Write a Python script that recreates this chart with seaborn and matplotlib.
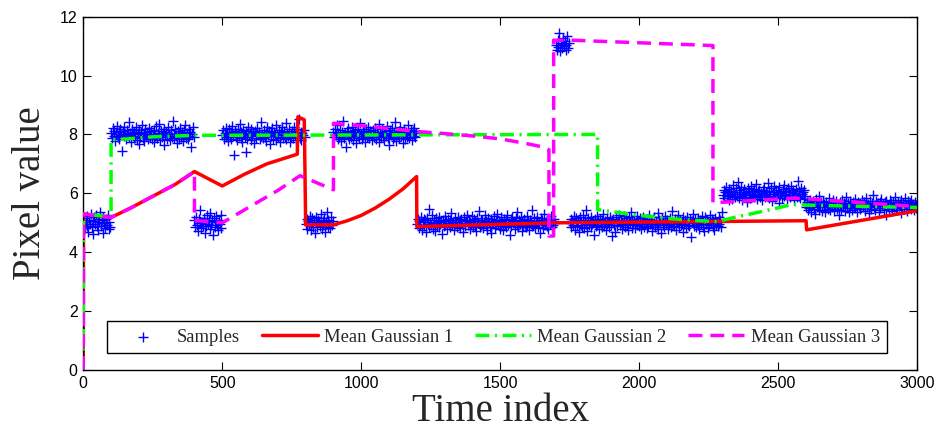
import numpy as np
import pandas as pd
import matplotlib
matplotlib.use('Agg')
import matplotlib.pyplot as plt
import seaborn as sns

# ==================== data ====================
# sample segments (time range and the pixel values read per segment)
seg_start = [0, 100, 400, 500, 800, 900, 1200, 1700, 1750, 2300, 2600]
seg_end = [100, 400, 500, 800, 900, 1200, 1700, 1750, 2300, 2600, 3000]

seg_a = [4.92, 5.15, 4.81, 5.03, 5.22, 4.88, 4.70, 5.10, 4.97, 5.31, 4.85, 5.06, 4.62, 5.18, 4.95, 5.27,
         4.89, 5.12, 4.76, 5.01, 5.36, 4.90, 5.08, 4.67, 5.20, 4.98, 4.83, 5.14, 4.93, 5.25, 4.79, 5.04,
         4.87]
seg_b = [8.05, 7.88, 8.21, 7.96, 8.12, 7.79, 8.03, 8.30, 7.92, 8.08,
         7.85, 8.17, 7.98, 7.45, 8.11, 7.94, 8.26, 8.02, 7.83, 8.14,
         7.97, 8.41, 7.90, 8.06, 7.76, 8.19, 8.00, 7.87, 8.09, 7.95,
         8.24, 7.81, 8.04, 7.68, 8.15, 7.93, 8.07, 8.33, 7.89, 8.01,
         7.78, 8.18, 7.96, 8.10, 7.84, 8.22, 7.99, 7.91, 8.13, 7.86,
         8.02, 7.73, 8.16, 7.94, 8.28, 7.88, 8.06, 7.97, 8.36, 7.82,
         8.11, 7.92, 8.04, 7.65, 8.20, 7.99, 8.09, 7.86, 8.25, 7.95,
         8.00, 7.80, 8.14, 7.90, 8.46, 8.03, 7.87, 8.18, 7.96, 7.71,
         8.12, 8.01, 7.84, 8.23, 7.93, 8.07, 7.77, 8.15, 7.98, 8.31,
         7.89, 8.05, 7.83, 8.19, 7.94, 8.10, 7.58, 8.02, 8.27, 7.91]
seg_c = [5.08, 4.86, 5.21, 4.94, 4.73, 5.12, 4.99, 5.45, 4.81, 5.04, 4.90, 5.17, 4.67, 5.02, 4.88, 5.25,
         4.96, 5.11, 4.78, 5.33, 4.92, 5.06, 4.60, 5.15, 4.85, 5.01, 5.22, 4.91, 4.75, 5.09, 4.97, 5.28,
         4.83]
seg_d = [7.97, 8.14, 7.86, 8.06, 8.23, 7.91, 8.02, 7.78, 8.17, 7.95,
         8.09, 7.84, 8.28, 7.99, 7.30, 8.12, 7.93, 8.04, 7.80, 8.20,
         7.96, 8.35, 7.88, 8.07, 7.74, 8.15, 8.01, 7.90, 7.40, 8.11,
         7.85, 8.25, 7.98, 8.05, 7.82, 8.18, 7.94, 8.08, 7.71, 8.13,
         8.00, 7.87, 8.22, 7.97, 8.10, 7.83, 8.43, 7.95, 8.03, 7.89,
         8.16, 7.92, 8.06, 7.79, 8.27, 7.99, 8.12, 7.66, 8.04, 7.94,
         8.21, 7.86, 8.09, 7.97, 8.33, 7.81, 8.02, 7.90, 8.15, 7.76,
         8.07, 7.98, 8.24, 7.88, 8.11, 7.93, 8.38, 7.84, 8.05, 7.96,
         8.18, 7.73, 8.01, 7.91, 8.13, 7.87, 8.26, 7.99, 8.08, 7.80,
         8.20, 7.95, 8.52, 7.89, 8.10, 7.82, 8.04, 7.97, 8.16, 7.92]
seg_e = [4.95, 5.13, 4.80, 5.06, 4.91, 5.24, 4.74, 5.01, 5.17, 4.87, 5.09, 4.66, 5.20, 4.98, 4.84, 5.11,
         5.03, 4.89, 5.29, 4.78, 5.07, 4.94, 5.15, 4.70, 5.02, 5.38, 4.86, 5.10, 4.97, 4.82, 5.19, 4.92,
         5.05]
seg_f = [8.08, 7.90, 8.19, 7.97, 8.31, 7.84, 8.04, 7.93, 8.16, 7.78,
         8.10, 7.99, 8.45, 7.88, 8.06, 7.57, 8.13, 7.95, 8.22, 7.86,
         8.02, 7.92, 8.27, 7.81, 8.09, 7.98, 8.15, 7.70, 8.05, 7.94,
         8.20, 7.87, 8.38, 8.00, 7.83, 8.12, 7.96, 8.07, 7.76, 8.17,
         7.91, 8.03, 8.25, 7.89, 8.11, 7.97, 7.80, 8.14, 8.01, 7.93,
         8.23, 7.85, 8.06, 7.99, 8.34, 7.74, 8.09, 7.90, 8.18, 7.96,
         8.02, 7.82, 8.12, 7.94, 8.29, 7.88, 8.05, 7.63, 8.15, 7.98,
         8.21, 7.86, 8.08, 7.92, 8.41, 7.79, 8.03, 7.97, 8.13, 7.89,
         8.26, 7.95, 8.07, 7.72, 8.19, 8.00, 7.84, 8.10, 7.93, 8.32,
         7.87, 8.04, 7.98, 8.16, 7.81, 8.11, 7.96, 8.22, 7.90, 8.06]
seg_g = [4.97, 5.12, 4.83, 5.05, 4.91, 5.21, 4.76, 5.02, 5.14, 4.88,
         5.08, 4.69, 5.17, 4.95, 5.48, 4.86, 5.03, 4.93, 5.26, 4.80,
         5.10, 4.99, 4.72, 5.15, 4.90, 5.06, 4.84, 5.19, 4.96, 5.01,
         4.62, 5.11, 4.89, 5.24, 4.94, 5.07, 4.78, 5.13, 4.98, 4.87,
         5.09, 5.32, 4.92, 5.04, 4.75, 5.16, 4.97, 5.02, 4.85, 5.20,
         4.91, 5.08, 4.81, 5.12, 4.95, 4.68, 5.18, 5.00, 4.88, 5.06,
         5.28, 4.93, 5.10, 4.79, 5.03, 4.96, 5.22, 4.86, 5.14, 4.90,
         5.05, 4.73, 5.17, 4.98, 5.40, 4.84, 5.09, 4.94, 5.11, 4.82,
         5.01, 5.25, 4.92, 5.07, 4.77, 5.15, 4.99, 4.87, 5.13, 4.65,
         5.04, 4.95, 5.23, 4.83, 5.10, 4.91, 5.30, 4.97, 5.06, 4.80,
         5.18, 4.89, 5.02, 4.74, 5.14, 4.96, 5.08, 4.85, 5.27, 4.93,
         5.00, 4.58, 5.12, 4.88, 5.19, 4.98, 5.05, 4.79, 5.16, 4.92,
         5.35, 4.86, 5.09, 4.95, 5.21, 4.71, 5.03, 4.90, 5.13, 4.97,
         4.84, 5.24, 4.94, 5.07, 4.76, 5.11, 5.01, 4.88, 5.44, 4.92,
         5.15, 4.82, 5.06, 4.99, 5.20, 4.87, 5.04, 4.67, 5.17, 4.95,
         5.10, 4.81, 5.29, 4.93, 5.02, 4.89, 5.14, 4.78, 5.08, 4.96,
         5.22, 4.85, 5.05, 4.91, 5.12, 4.98]
seg_h = [11.05, 10.88, 11.21, 10.97, 11.45, 10.82, 11.12, 10.93, 11.08, 11.28, 10.99, 11.16, 10.86,
         11.03, 11.35, 10.95, 11.10]
seg_i = [4.98, 5.13, 4.84, 5.06, 4.92, 5.22, 4.77, 5.01, 5.15, 4.89,
         5.09, 4.70, 5.18, 4.94, 5.03, 4.86, 5.26, 4.81, 5.11, 4.97,
         5.45, 4.73, 5.16, 4.91, 5.07, 4.85, 5.20, 4.95, 5.02, 4.60,
         5.12, 4.88, 5.23, 4.93, 5.08, 4.79, 5.14, 4.99, 4.87, 5.10,
         5.31, 4.90, 5.05, 4.76, 5.17, 4.96, 5.01, 4.84, 5.21, 4.92,
         5.08, 4.55, 5.13, 4.94, 4.69, 5.19, 5.00, 4.89, 5.06, 5.27,
         4.92, 5.11, 4.80, 5.04, 4.97, 5.23, 4.86, 5.15, 4.91, 5.06,
         4.74, 5.18, 4.99, 5.36, 4.83, 5.10, 4.95, 5.12, 4.81, 5.02,
         5.24, 4.93, 5.07, 4.88, 5.16, 4.78, 5.04, 4.96, 5.20, 4.87,
         5.09, 4.98, 4.83, 5.14, 4.90, 5.28, 4.95, 5.03, 4.72, 5.11,
         4.97, 5.19, 4.85, 5.06, 4.92, 5.33, 4.80, 5.08, 4.99, 4.64,
         5.15, 4.93, 5.02, 4.87, 5.22, 4.96, 5.10, 4.78, 5.05, 4.91,
         5.17, 4.84, 5.40, 4.95, 5.01, 4.89, 5.13, 4.75, 5.07, 4.98,
         5.25, 4.86, 5.11, 4.92, 5.04, 4.68, 5.18, 4.97, 5.09, 4.82,
         5.21, 4.94, 5.03, 4.88, 5.14, 4.52, 5.06, 4.99, 5.30, 4.90,
         5.12, 4.85, 5.00, 4.93, 5.16, 4.79, 5.08, 4.96, 5.23, 4.87,
         5.05, 4.73, 5.19, 4.95, 5.10, 4.83, 5.02, 4.91, 5.27, 4.98,
         5.13, 4.86, 5.07, 4.77, 5.15, 4.94, 5.04, 4.89, 5.20, 4.97,
         5.09, 4.84, 5.38]
seg_j = [5.95, 6.12, 5.83, 6.04, 6.21, 5.90, 6.01, 5.76, 6.15, 5.94,
         6.08, 5.82, 6.27, 5.98, 6.05, 5.87, 6.18, 5.92, 6.40, 5.85,
         6.10, 5.97, 6.23, 5.79, 6.06, 5.93, 6.14, 5.88, 6.02, 5.72,
         6.19, 5.96, 6.09, 5.84, 6.25, 5.99, 6.03, 5.89, 6.16, 5.91,
         6.32, 5.81, 6.07, 5.95, 6.13, 5.86, 6.00, 5.78, 6.11, 5.94,
         6.22, 5.88, 6.05, 5.97, 6.36, 5.83, 6.09, 5.92, 6.17, 5.75,
         6.03, 5.99, 6.26, 5.87, 6.12, 5.94, 6.06, 5.68, 6.20, 5.96,
         6.01, 5.85, 6.14, 5.91, 6.30, 5.98, 6.08, 5.80, 6.18, 5.93,
         6.04, 5.89, 6.24, 5.96, 6.10, 5.77, 6.02, 5.95, 6.15, 5.86,
         6.42, 5.92, 6.07, 5.84, 6.19, 5.99, 6.05, 5.82, 6.13, 5.90]
seg_k = [5.55, 5.71, 5.42, 5.63, 5.50, 5.78, 5.37, 5.60, 5.74, 5.46,
         5.66, 5.30, 5.81, 5.53, 5.62, 5.44, 5.92, 5.57, 5.69, 5.40,
         5.75, 5.52, 5.64, 5.35, 5.70, 5.58, 5.48, 5.85, 5.61, 5.43,
         5.67, 5.54, 5.79, 5.39, 5.65, 5.56, 5.73, 5.47, 5.62, 5.25,
         5.72, 5.59, 5.45, 5.76, 5.55, 5.68, 5.41, 5.63, 5.88, 5.51,
         5.66, 5.38, 5.74, 5.57, 5.60, 5.44, 5.70, 5.53, 5.82, 5.49,
         5.64, 5.36, 5.71, 5.58, 5.67, 5.46, 5.62, 5.77, 5.52, 5.69,
         5.41, 5.60, 5.84, 5.55, 5.65, 5.33, 5.73, 5.57, 5.48, 5.68,
         5.95, 5.54, 5.62, 5.43, 5.75, 5.59, 5.66, 5.38, 5.71, 5.50,
         5.80, 5.56, 5.64, 5.45, 5.69, 5.28, 5.74, 5.58, 5.61, 5.47,
         5.78, 5.53, 5.67, 5.40, 5.72, 5.55, 5.86, 5.49, 5.63, 5.42,
         5.70, 5.57, 5.65, 5.34, 5.76, 5.52, 5.68, 5.46, 5.83, 5.59,
         5.62, 5.39, 5.73, 5.54, 5.66, 5.48, 5.79, 5.56, 5.64, 5.44,
         5.71, 5.51, 5.60]
seg_values = [seg_a, seg_b, seg_c, seg_d, seg_e, seg_f, seg_g, seg_h, seg_i, seg_j, seg_k]

# mean curves of the three gaussians (breakpoints)
g1_x = [0, 1, 100, 170, 250, 330, 400, 500, 580, 660, 770, 772, 795, 800, 900, 950, 1000, 1050,
        1100, 1150, 1199, 1200, 1700, 2600, 2602, 3000]
g1_y = [0, 5.3, 5.18, 5.5, 5.9, 6.3, 6.74, 6.25, 6.65, 7.0, 7.33, 8.6, 8.5, 4.93, 4.93, 5.07, 5.25, 5.5,
        5.8, 6.15, 6.57, 4.87, 5.0, 5.07, 4.76, 5.41]

g2_x = [0, 1, 100, 100, 160, 250, 400, 1850, 1850, 1900, 2000, 2100, 2200, 2280, 2350, 2450, 2550,
        2600, 3000]
g2_y = [0, 5.3, 5.2, 7.82, 7.85, 7.92, 7.97, 8.0, 5.45, 5.38, 5.25, 5.15, 5.08, 5.04, 5.2, 5.4, 5.62,
        5.6, 5.52]

g3_x = [0, 1, 100, 170, 250, 330, 400, 400, 500, 600, 700, 780, 900, 900, 1000, 1100, 1200, 1300, 1400,
        1500, 1600, 1650, 1675, 1675, 1692, 1692, 1760, 2265, 2265, 2400, 2560, 2700, 2850, 3000]
g3_y = [0, 5.3, 5.18, 5.5, 5.9, 6.3, 6.74, 5.08, 5.0, 5.55, 6.1, 6.6, 6.12, 8.38, 8.3, 8.2, 8.1, 8.03,
        7.95, 7.85, 7.68, 7.58, 7.48, 4.55, 4.55, 11.2, 11.2, 11.02, 5.68, 5.75, 5.84, 5.75, 5.65, 5.55]

# ==================== build sample table ====================
rows = []
for s, e, vals in zip(seg_start, seg_end, seg_values):
    ts = np.linspace(s, e - 3, len(vals))
    for t, v in zip(ts, vals):
        rows.append((t, v))
samples = pd.DataFrame(rows, columns=['t', 'v'])

# ==================== plot ====================
sns.set_style('ticks')
plt.rcParams['font.family'] = ['Liberation Sans', 'DejaVu Sans']

fig, ax = plt.subplots(figsize=(9.44, 4.36), dpi=100)
fig.subplots_adjust(left=0.0882, right=0.9717, bottom=0.1514, top=0.9617)

sns.scatterplot(data=samples, x='t', y='v', marker='+', color='blue', s=62, linewidth=1.0,
                ax=ax, label='Samples', zorder=1)
sns.lineplot(x=g1_x, y=g1_y, sort=False, estimator=None, color='red', lw=2.5,
             ax=ax, label='Mean Gaussian 1', zorder=2)
sns.lineplot(x=g2_x, y=g2_y, sort=False, estimator=None, color='#00ff00', lw=2.5,
             linestyle=(0, (4, 1.6, 0.6, 1.6)), ax=ax, label='Mean Gaussian 2', zorder=3)
sns.lineplot(x=g3_x, y=g3_y, sort=False, estimator=None, color='#ff00ff', lw=2.5,
             linestyle=(0, (4, 2.3)), ax=ax, label='Mean Gaussian 3', zorder=4)

ax.set_xlim(0, 3000)
ax.set_ylim(0, 12)
ax.set_xticks(range(0, 3001, 500))
ax.set_yticks(range(0, 13, 2))
ax.tick_params(direction='in', top=True, right=True, length=6, width=0.8,
               labelsize=11.5, colors='black', pad=4)
for sp in ax.spines.values():
    sp.set_visible(True)
    sp.set_linewidth(1.0)
    sp.set_color('black')

ax.set_xlabel('Time index', family='Liberation Serif', fontsize=28, labelpad=2)
ax.set_ylabel('Pixel value', family='Liberation Serif', fontsize=28, labelpad=8)

leg = ax.legend(loc='lower left', bbox_to_anchor=(0.0287, 0.048, 0.9355, 0.096), mode='expand',
                ncol=4, frameon=True, fancybox=False, edgecolor='black', framealpha=1,
                handlelength=3.0, handletextpad=0.35, borderaxespad=0,
                prop={'family': 'Liberation Serif', 'size': 13.4})
leg.get_frame().set_linewidth(1.0)

fig.savefig('out.png', dpi=100)
